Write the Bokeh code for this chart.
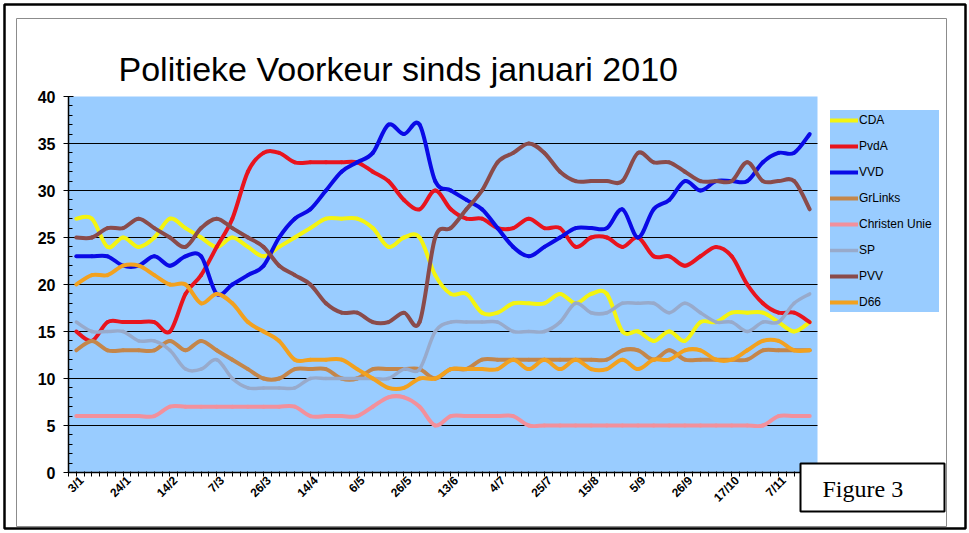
import math
from bokeh.plotting import figure
from bokeh.models import (FixedTicker, Legend, LegendItem, Label, BoxAnnotation, Range1d)
from bokeh.embed import file_html
from bokeh.resources import INLINE

# ---------------- data (seats, one value per poll) ----------------
tick_labels = ["3/1", "24/1", "14/2", "7/3", "26/3", "14/4", "6/5", "26/5",
               "13/6", "4/7", "25/7", "15/8", "5/9", "26/9", "17/10", "7/11"]

cda = [27, 27, 24, 25, 24, 25, 27, 26, 25, 24, 25, 24, 23, 24, 25, 26,
       27, 27, 27, 26, 24, 25, 25, 21, 19, 19, 17, 17, 18, 18, 18, 19,
       18, 19, 19, 15, 15, 14, 15, 14, 16, 16, 17, 17, 17, 16, 15, 16]
pvda = [15, 14, 16, 16, 16, 16, 15, 19, 21, 24, 27, 32, 34, 34, 33, 33,
        33, 33, 33, 32, 31, 29, 28, 30, 28, 27, 27, 26, 26, 27, 26, 26,
        24, 25, 25, 24, 25, 23, 23, 22, 23, 24, 23, 20, 18, 17, 17, 16]
vvd = [23, 23, 23, 22, 22, 23, 22, 23, 23, 19, 20, 21, 22, 25, 27, 28,
       30, 32, 33, 34, 37, 36, 37, 31, 30, 29, 28, 26, 24, 23, 24, 25,
       26, 26, 26, 28, 25, 28, 29, 31, 30, 31, 31, 31, 33, 34, 34, 36]
grlinks = [13, 14, 13, 13, 13, 13, 14, 13, 14, 13, 12, 11, 10, 10, 11, 11,
           11, 10, 10, 11, 11, 11, 11, 10, 11, 11, 12, 12, 12, 12, 12, 12,
           12, 12, 12, 13, 13, 12, 13, 12, 12, 12, 12, 12, 13, 13, 13, 13]
christen_unie = [6, 6, 6, 6, 6, 6, 7, 7, 7, 7, 7, 7, 7, 7, 7, 6,
                 6, 6, 6, 7, 8, 8, 7, 5, 6, 6, 6, 6, 6, 5, 5, 5,
                 5, 5, 5, 5, 5, 5, 5, 5, 5, 5, 5, 5, 5, 6, 6, 6]
sp = [16, 15, 15, 15, 14, 14, 13, 11, 11, 12, 10, 9, 9, 9, 9, 10,
      10, 10, 10, 10, 10, 11, 11, 15, 16, 16, 16, 16, 15, 15, 15, 16,
      18, 17, 17, 18, 18, 18, 17, 18, 17, 16, 16, 15, 16, 16, 18, 19]
pvv = [25, 25, 26, 26, 27, 26, 25, 24, 26, 27, 26, 25, 24, 22, 21, 20,
       18, 17, 17, 16, 16, 17, 16, 25, 26, 28, 30, 33, 34, 35, 34, 32,
       31, 31, 31, 31, 34, 33, 33, 32, 31, 31, 31, 33, 31, 31, 31, 28]
d66 = [20, 21, 21, 22, 22, 21, 20, 20, 18, 19, 18, 16, 15, 14, 12, 12,
       12, 12, 11, 10, 9, 9, 10, 10, 11, 11, 11, 11, 12, 11, 12, 11,
       12, 11, 11, 12, 11, 12, 12, 13, 13, 12, 12, 13, 14, 14, 13, 13]

series_names = ["CDA", "PvdA", "VVD", "GrLinks", "Christen Unie", "SP", "PVV", "D66"]
series_values = [cda, pvda, vvd, grlinks, christen_unie, sp, pvv, d66]
series_colors = ["#F4F410", "#E8141E", "#0A0AE6", "#C4864A", "#F2909C", "#98AACB", "#8A4B4B", "#F2A11F"]
series_widths = [4, 4, 4, 4, 4, 3.5, 4, 4]

y_max = 40
n = len(cda)
xs = list(range(n))

# ---------------- layout constants (pixels inside the canvas) ----------------
W, H = 967, 531
AREA_L, AREA_R, AREA_T, AREA_B = 68, 817, 96, 472     # blue plotting area
x_lo, x_hi = -0.5, n - 0.5
kx = (AREA_R - AREA_L) / (x_hi - x_lo)
ky = (AREA_B - AREA_T) / y_max
x_start = x_lo - AREA_L / kx
x_end = x_hi + (W - AREA_R) / kx
y_start = 0 - (H - AREA_B) / ky
y_end = y_max + AREA_T / ky
LABEL_SHIFT = 0.35   # tick-label anchor offset (in categories), labels sit just right of the point

BLUE = "#99CCFF"
p = figure(width=W, height=H, output_backend="svg", toolbar_location=None,
           x_range=Range1d(x_start, x_end), y_range=Range1d(y_start, y_end),
           min_border=0, min_border_left=0, min_border_right=0,
           min_border_top=0, min_border_bottom=0, title=None)
p.background_fill_color = "white"
p.border_fill_color = "white"
p.outline_line_color = None

# blue plotting area
p.quad(left=[x_lo], right=[x_hi], bottom=[0], top=[y_max], fill_color=BLUE, line_color=None)

# horizontal grid lines, limited to the plotting area
grid_vals = list(range(5, y_max, 5))
p.segment(x0=[x_lo] * len(grid_vals), x1=[x_hi] * len(grid_vals), y0=grid_vals, y1=grid_vals,
          line_color="black", line_width=1)
p.xgrid.visible = False
p.ygrid.visible = False

# axes placed at the edges of the plotting area
p.yaxis.fixed_location = x_lo
p.yaxis.bounds = (0, y_max)
p.yaxis.ticker = FixedTicker(ticks=list(range(0, y_max + 1, 5)), minor_ticks=list(range(0, y_max + 1)))
p.yaxis.major_label_text_font = "Liberation Sans"
p.yaxis.major_label_text_font_style = "bold"
p.yaxis.major_label_text_font_size = "16px"
p.yaxis.major_label_text_color = "black"
p.yaxis.axis_line_color = "black"
p.yaxis.axis_line_width = 1.5
p.yaxis.major_tick_in = 5
p.yaxis.major_tick_out = 5
p.yaxis.minor_tick_in = 4
p.yaxis.minor_tick_out = 0
p.yaxis.major_tick_line_color = "black"
p.yaxis.minor_tick_line_color = "black"
p.yaxis.major_label_standoff = 8

label_pos = [i + LABEL_SHIFT for i in range(0, n, 3)][:len(tick_labels)]
p.xaxis.fixed_location = 0
p.xaxis.bounds = (x_lo, x_hi)
p.xaxis.ticker = FixedTicker(ticks=label_pos, minor_ticks=[x_lo + 0.5 * k for k in range(2 * n + 1)])
p.xaxis.major_label_overrides = {pos: lab for pos, lab in zip(label_pos, tick_labels)}
p.xaxis.major_label_orientation = math.pi / 4
p.xaxis.major_label_text_font = "Liberation Sans"
p.xaxis.major_label_text_font_style = "bold"
p.xaxis.major_label_text_font_size = "12px"
p.xaxis.major_label_text_color = "black"
p.xaxis.axis_line_color = "black"
p.xaxis.axis_line_width = 1.5
p.xaxis.major_tick_line_color = None
p.xaxis.major_tick_in = 0
p.xaxis.major_tick_out = 4
p.xaxis.minor_tick_in = 1
p.xaxis.minor_tick_out = 4
p.xaxis.minor_tick_line_color = "black"
p.xaxis.major_label_standoff = 2

# smoothed lines (cubic Bezier segments through the data points, like Excel's smoothing)
items = []
for name, vals, col, w in zip(series_names, series_values, series_colors, series_widths):
    x0, y0, x1, y1, cx0, cy0, cx1, cy1 = [], [], [], [], [], [], [], []
    for i in range(n - 1):
        xa, ya = xs[i], vals[i]
        xb, yb = xs[i + 1], vals[i + 1]
        xp, yp = (xs[i - 1], vals[i - 1]) if i > 0 else (xa, ya)
        xn, yn = (xs[i + 2], vals[i + 2]) if i + 2 < n else (xb, yb)
        x0.append(xa); y0.append(ya); x1.append(xb); y1.append(yb)
        cx0.append(xa + (xb - xp) / 6.0); cy0.append(ya + (yb - yp) / 6.0)
        cx1.append(xb - (xn - xa) / 6.0); cy1.append(yb - (yn - ya) / 6.0)
    r = p.bezier(x0=x0, y0=y0, x1=x1, y1=y1, cx0=cx0, cy0=cy0, cx1=cx1, cy1=cy1,
                 line_color=col, line_width=w, line_cap="round")
    items.append(LegendItem(label=name, renderers=[r], index=0))

legend = Legend(items=items, location=(830, H - 312), background_fill_color=BLUE,
                background_fill_alpha=1, border_line_color=None,
                label_text_font="Liberation Sans", label_text_font_size="12px",
                label_text_color="black", glyph_width=28, glyph_height=20,
                label_height=20, label_width=80, spacing=6, padding=4,
                label_standoff=1, margin=0)
p.add_layout(legend)

# frames (screen units: x from left, y up from bottom of canvas)
p.add_layout(BoxAnnotation(left=4, right=965, bottom=H - 528, top=H - 4,
                           left_units="screen", right_units="screen",
                           bottom_units="screen", top_units="screen",
                           fill_alpha=0, line_color="black", line_alpha=1, line_width=2.5))
p.add_layout(BoxAnnotation(left=16, right=946, bottom=H - 526, top=H - 18,
                           left_units="screen", right_units="screen",
                           bottom_units="screen", top_units="screen",
                           fill_alpha=0, line_color="#8C8C8C", line_alpha=1, line_width=1))

# title
p.add_layout(Label(x=118, y=H - 68, x_units="screen", y_units="screen",
                   text="Politieke Voorkeur sinds januari 2010",
                   text_font="Liberation Sans", text_font_size="34px",
                   text_color="black", text_baseline="alphabetic"))

# "Figure 3" box
p.add_layout(BoxAnnotation(left=800, right=944, bottom=H - 511, top=H - 463,
                           left_units="screen", right_units="screen",
                           bottom_units="screen", top_units="screen",
                           fill_color="white", fill_alpha=1, line_color="black",
                           line_alpha=1, line_width=2))
p.add_layout(Label(x=822, y=H - 488, x_units="screen", y_units="screen",
                   text="Figure 3", text_font="Liberation Serif",
                   text_font_size="24px", text_color="black", text_baseline="alphabetic"))

open("out.html", "w").write(file_html(p, INLINE))
